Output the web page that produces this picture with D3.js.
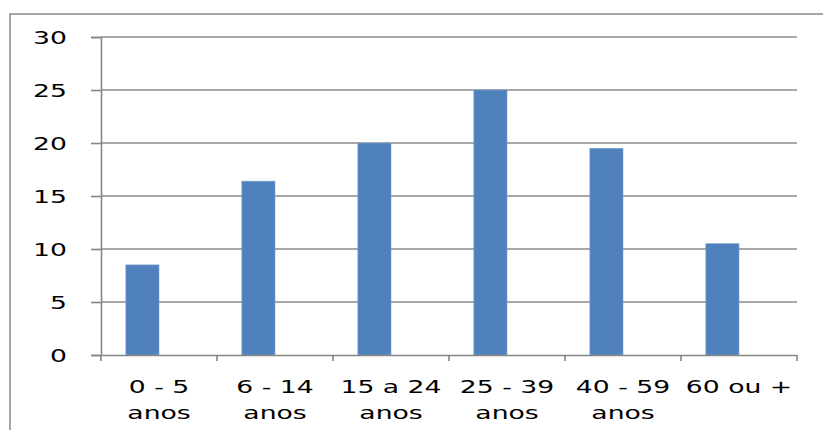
<!DOCTYPE html>
<html>
<head>
<meta charset="utf-8">
<script src="https://cdn.jsdelivr.net/npm/d3@7"></script>
<style>
  body { margin: 0; background: #fff; }
  text { font-family: "DejaVu Sans", sans-serif; fill: #000; }
</style>
</head>
<body>
<div id="chart"></div>
<script>
const width = 823;
const height = 430;

// data
const categories = ["0 - 5 anos", "6 - 14 anos", "15 a 24 anos", "25 - 39 anos", "40 - 59 anos", "60 ou +"];
const labelLines = [["0 - 5", "anos"], ["6 - 14", "anos"], ["15 a 24", "anos"], ["25 - 39", "anos"], ["40 - 59", "anos"], ["60 ou +"]];
const values = [8.5, 16.4, 20, 25, 19.5, 10.5];
const yTicks = [0, 5, 10, 15, 20, 25, 30];

const margin = { left: 101, right: 26, top: 37, bottom: 74 };
const stretch = 1.48;  // the original text is drawn wide

const svg = d3.select("#chart").append("svg").attr("width", width).attr("height", height);

// outer chart border
svg.append("rect")
    .attr("x", 10).attr("y", 14)
    .attr("width", width).attr("height", height)
    .attr("fill", "none").attr("stroke", "#8f8f8f").attr("stroke-width", 1.6);

const x = d3.scaleBand().domain(categories).range([margin.left, width - margin.right]);
const y = d3.scaleLinear().domain([0, 30]).range([height - margin.bottom - 1, margin.top]);

// gridlines
svg.append("g").selectAll("line").data(yTicks.slice(1)).enter()
    .append("line")
    .attr("x1", margin.left).attr("x2", width - margin.right)
    .attr("y1", d => y(d)).attr("y2", d => y(d))
    .attr("stroke", "#8c8c8c").attr("stroke-width", 1.6);

// bars: Excel-like, bar sits left of the category centre
const barW = x.bandwidth() / 3.5;
svg.append("g").selectAll("rect").data(values).enter()
    .append("rect")
    .attr("x", (d, i) => x(categories[i]) + barW * 0.75)
    .attr("y", d => y(d))
    .attr("width", barW)
    .attr("height", d => y(0) - y(d))
    .attr("fill", "#4f81bd")
    .attr("stroke", "#7fa1cf").attr("stroke-width", 0.6);

// y axis
const yAxis = svg.append("g").attr("transform", `translate(${margin.left},0)`)
    .call(d3.axisLeft(y).tickValues(yTicks).tickSize(10).tickFormat(d3.format("d")));
yAxis.select(".domain").attr("stroke", "#868686").attr("stroke-width", 1.6);
yAxis.selectAll(".tick line").attr("stroke", "#868686").attr("stroke-width", 1.6);
yAxis.selectAll(".tick text").remove();
yAxis.selectAll(".tick").append("text")
    .attr("text-anchor", "end")
    .attr("dy", "0.36em")
    .attr("transform", `translate(-34,0) scale(${stretch},1)`)
    .style("font-size", "18px")
    .text(d => d);

// x axis
const xAxis = svg.append("g").attr("transform", `translate(0,${y(0)})`)
    .call(d3.axisBottom(x).tickSize(0).tickFormat(""));
xAxis.select(".domain").attr("stroke", "#868686").attr("stroke-width", 1.6);
const edges = categories.map(c => x(c)).concat([width - margin.right]);
xAxis.selectAll(".edge").data(edges).enter()
    .append("line")
    .attr("x1", d => d).attr("x2", d => d)
    .attr("y1", 0).attr("y2", 6)
    .attr("stroke", "#868686").attr("stroke-width", 1.6);

const labels = svg.append("g").selectAll("g").data(labelLines).enter()
    .append("g")
    .attr("transform", (d, i) => `translate(${x(categories[i]) + x.bandwidth() / 2},393) scale(${stretch},1)`);
labels.selectAll("text").data(d => d).enter()
    .append("text")
    .attr("text-anchor", "middle")
    .attr("y", (d, j) => j * 26)
    .style("font-size", "18px")
    .text(d => d);
</script>
</body>
</html>
